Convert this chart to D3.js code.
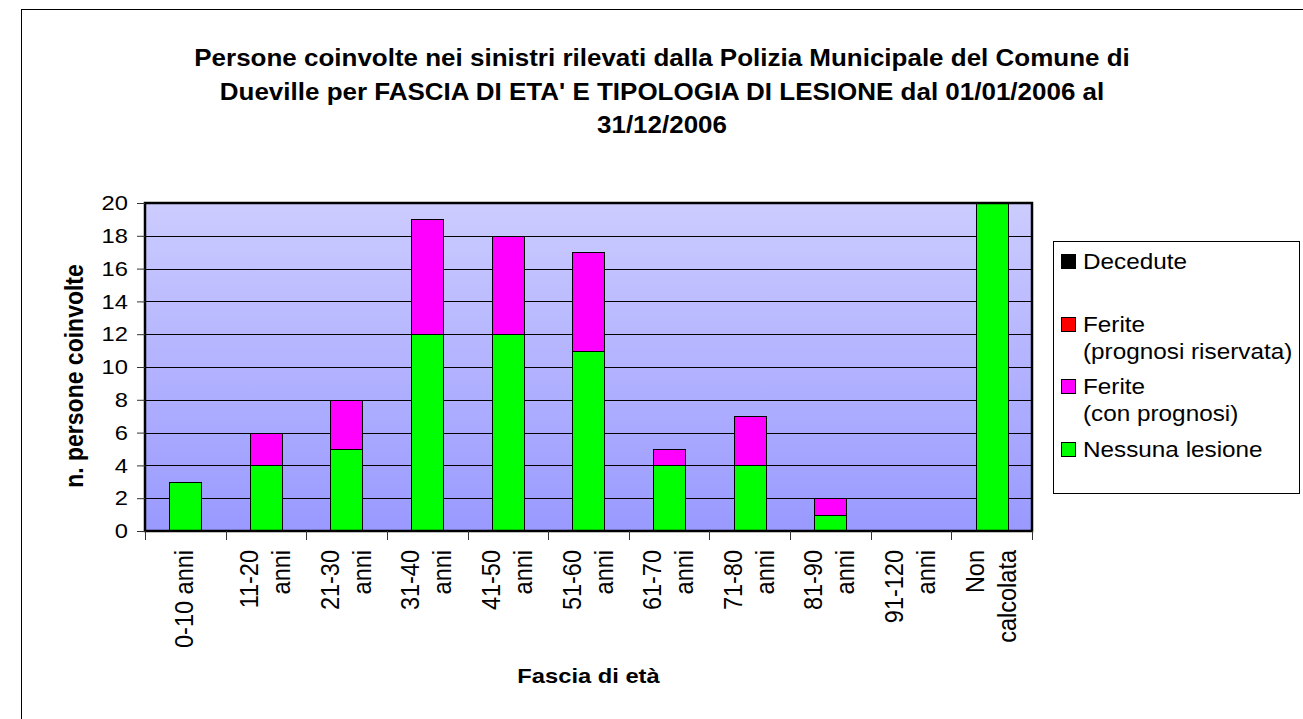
<!DOCTYPE html>
<html>
<head>
<meta charset="utf-8">
<title>Persone coinvolte nei sinistri - Dueville 2006</title>
<script src="https://cdn.jsdelivr.net/npm/d3@7"></script>
<style>
  html, body { margin: 0; padding: 0; background: #fff; }
  .js-container { width: 1303px; height: 719px; overflow: hidden; }
  text { font-family: Arial, "Liberation Sans", sans-serif; fill: #000; }
</style>
</head>
<body>
<div class="js-container"></div>
<script>
;(function() {
  'use strict';

  // Age bands, each split into the lines shown under the axis.
  var categories = [
    ['0-10 anni'],
    ['11-20', 'anni'],
    ['21-30', 'anni'],
    ['31-40', 'anni'],
    ['41-50', 'anni'],
    ['51-60', 'anni'],
    ['61-70', 'anni'],
    ['71-80', 'anni'],
    ['81-90', 'anni'],
    ['91-120', 'anni'],
    ['Non', 'calcolata']
  ];

  var nessunaLesione    = [3, 4, 5, 12, 12, 11, 4, 4, 1, 0, 20];
  var feriteConPrognosi = [0, 2, 3, 7, 6, 6, 1, 3, 1, 0, 0];
  var feriteRiservata   = [0, 0, 0, 0, 0, 0, 0, 0, 0, 0, 0];
  var decedute          = [0, 0, 0, 0, 0, 0, 0, 0, 0, 0, 0];

  // Stack order, from the bottom up.
  var seriesNames = ['Nessuna lesione', 'Ferite (con prognosi)', 'Ferite (prognosi riservata)', 'Decedute'];
  var seriesValues = [nessunaLesione, feriteConPrognosi, feriteRiservata, decedute];
  var seriesColors = ['#00ff00', '#ff00ff', '#ff0000', '#000000'];

  // Legend lists them from the top down, with the label wrapped.
  var legendLabels = [
    ['Decedute'],
    ['Ferite', '(prognosi riservata)'],
    ['Ferite', '(con prognosi)'],
    ['Nessuna lesione']
  ];

  var yTicks = [0, 2, 4, 6, 8, 10, 12, 14, 16, 18, 20];

  var titleLines = [
    'Persone coinvolte nei sinistri rilevati dalla Polizia Municipale del Comune di',
    "Dueville per FASCIA DI ETA' E TIPOLOGIA DI LESIONE dal 01/01/2006 al",
    '31/12/2006'
  ];

  var W = 1303, H = 719;
  var plot = { left: 145, top: 203, right: 1032, bottom: 531 };

  // The original glyphs come out wider than Arial; stretch text sideways.
  var SX = 1.13;

  var svg = d3.select('.js-container').append('svg')
              .attr('width', W)
              .attr('height', H);

  /**
   * Appends a text at (x, y), widened by SX, optionally turned to read upwards.
   */
  function addText(parent, x, y, txt, rotated) {
    return parent.append('text')
                 .attr('transform', 'translate(' + x + ',' + y + ') scale(' + SX + ',1)' +
                                    (rotated ? ' rotate(-90)' : ''))
                 .text(txt);
  }

  // Plot area background gradient.
  var grad = svg.append('defs').append('linearGradient')
                .attr('id', 'bg')
                .attr('x1', 0).attr('y1', 0)
                .attr('x2', 0).attr('y2', 1);
  grad.append('stop').attr('offset', '0%').attr('stop-color', '#ccccff');
  grad.append('stop').attr('offset', '100%').attr('stop-color', '#9999ff');

  // Chart frame.
  svg.append('rect')
      .attr('x', 21.5).attr('y', 9.5)
      .attr('width', W + 20).attr('height', H + 20)
      .attr('fill', 'none')
      .attr('stroke', '#000')
      .attr('stroke-width', 1);

  var x = d3.scaleBand()
            .domain(d3.range(categories.length))
            .range([plot.left, plot.right])
            .paddingInner(0.6)
            .paddingOuter(0.3);

  var y = d3.scaleLinear()
            .domain([0, 20])
            .range([plot.bottom, plot.top]);

  svg.append('rect')
      .attr('x', plot.left).attr('y', plot.top)
      .attr('width', plot.right - plot.left)
      .attr('height', plot.bottom - plot.top)
      .attr('fill', 'url(#bg)');

  // Gridlines.
  svg.append('g')
      .selectAll('line')
      .data(yTicks)
      .enter().append('line')
        .attr('x1', plot.left).attr('x2', plot.right)
        .attr('y1', function(d) { return Math.round(y(d)) + 0.5; })
        .attr('y2', function(d) { return Math.round(y(d)) + 0.5; })
        .attr('stroke', '#000')
        .attr('stroke-width', 1);

  // Stacked bars.
  var stackData = categories.map(function(c, i) {
    var row = { idx: i };
    seriesNames.forEach(function(s, k) { row[s] = seriesValues[k][i]; });
    return row;
  });

  var stacked = d3.stack().keys(seriesNames)(stackData);

  svg.append('g')
      .selectAll('g')
      .data(stacked)
      .enter().append('g')
        .attr('fill', function(d, k) { return seriesColors[k]; })
      .selectAll('rect')
      .data(function(d) { return d.filter(function(p) { return p[1] > p[0]; }); })
      .enter().append('rect')
        .attr('x', function(p) { return Math.round(x(p.data.idx)) + 0.5; })
        .attr('y', function(p) { return Math.round(y(p[1])) + 0.5; })
        .attr('width', Math.round(x.bandwidth()))
        .attr('height', function(p) { return Math.round(y(p[0])) - Math.round(y(p[1])); })
        .attr('stroke', '#000')
        .attr('stroke-width', 1);

  // Plot area border.
  svg.append('rect')
      .attr('x', plot.left).attr('y', plot.top)
      .attr('width', plot.right - plot.left)
      .attr('height', plot.bottom - plot.top)
      .attr('fill', 'none')
      .attr('stroke', '#000')
      .attr('stroke-width', 2.5);

  // Y axis.
  var yAxis = d3.axisLeft(y)
                .tickValues(yTicks)
                .tickSize(8)
                .tickPadding(10);

  var yg = svg.append('g')
              .attr('transform', 'translate(' + plot.left + ',0)')
              .call(yAxis);
  yg.select('.domain').remove();
  yg.selectAll('.tick line').attr('stroke', '#333');
  yg.selectAll('.tick text')
      .attr('x', null)
      .attr('transform', 'translate(-17,0) scale(' + SX + ',1)')
      .attr('font-size', 21)
      .attr('font-family', 'Arial, "Liberation Sans", sans-serif');

  // X ticks sit on the category boundaries.
  var boundaries = d3.range(categories.length + 1).map(function(i) {
    return plot.left + i * (plot.right - plot.left) / categories.length;
  });

  svg.append('g')
      .selectAll('line')
      .data(boundaries)
      .enter().append('line')
        .attr('x1', function(d) { return Math.round(d) + 0.5; })
        .attr('x2', function(d) { return Math.round(d) + 0.5; })
        .attr('y1', plot.bottom)
        .attr('y2', plot.bottom + 9)
        .attr('stroke', '#333')
        .attr('stroke-width', 1);

  // Rotated category labels, end-aligned near the axis.
  var lineGap = 32;
  var xl = svg.append('g')
              .attr('font-size', 23.5)
              .attr('text-anchor', 'end');
  categories.forEach(function(lines, i) {
    var cx = x(i) + x.bandwidth() / 2;
    lines.forEach(function(txt, j) {
      var bx = cx + 8 + (j - (lines.length - 1) / 2) * lineGap;
      addText(xl, bx, plot.bottom + 19, txt, true);
    });
  });

  // Axis titles.
  addText(svg, (plot.left + plot.right) / 2, 683, 'Fascia di età')
      .attr('text-anchor', 'middle')
      .attr('font-size', 21)
      .attr('font-weight', 'bold');

  addText(svg, 83, (plot.top + plot.bottom) / 2 + 9, 'n. persone coinvolte', true)
      .attr('text-anchor', 'middle')
      .attr('font-size', 23)
      .attr('font-weight', 'bold');

  // Title.
  var tg = svg.append('g')
              .attr('text-anchor', 'middle')
              .attr('font-size', 23)
              .attr('font-weight', 'bold');
  titleLines.forEach(function(line, i) {
    addText(tg, 662, 66 + i * 33.5, line);
  });

  // Legend.
  var legend = svg.append('g');
  legend.append('rect')
      .attr('x', 1053.5).attr('y', 241.5)
      .attr('width', 246).attr('height', 252)
      .attr('fill', '#fff')
      .attr('stroke', '#000')
      .attr('stroke-width', 1);

  legendLabels.forEach(function(lines, i) {
    var cy = 261 + i * 62.5;
    var k = seriesNames.length - 1 - i;
    legend.append('rect')
        .attr('x', 1061.5).attr('y', Math.round(cy - 7) + 0.5)
        .attr('width', 14).attr('height', 14)
        .attr('fill', seriesColors[k])
        .attr('stroke', '#000')
        .attr('stroke-width', 1);
    lines.forEach(function(txt, j) {
      addText(legend, 1083, cy + 8 + j * 27, txt)
          .attr('font-size', 21.5);
    });
  });

}());
</script>
</body>
</html>
